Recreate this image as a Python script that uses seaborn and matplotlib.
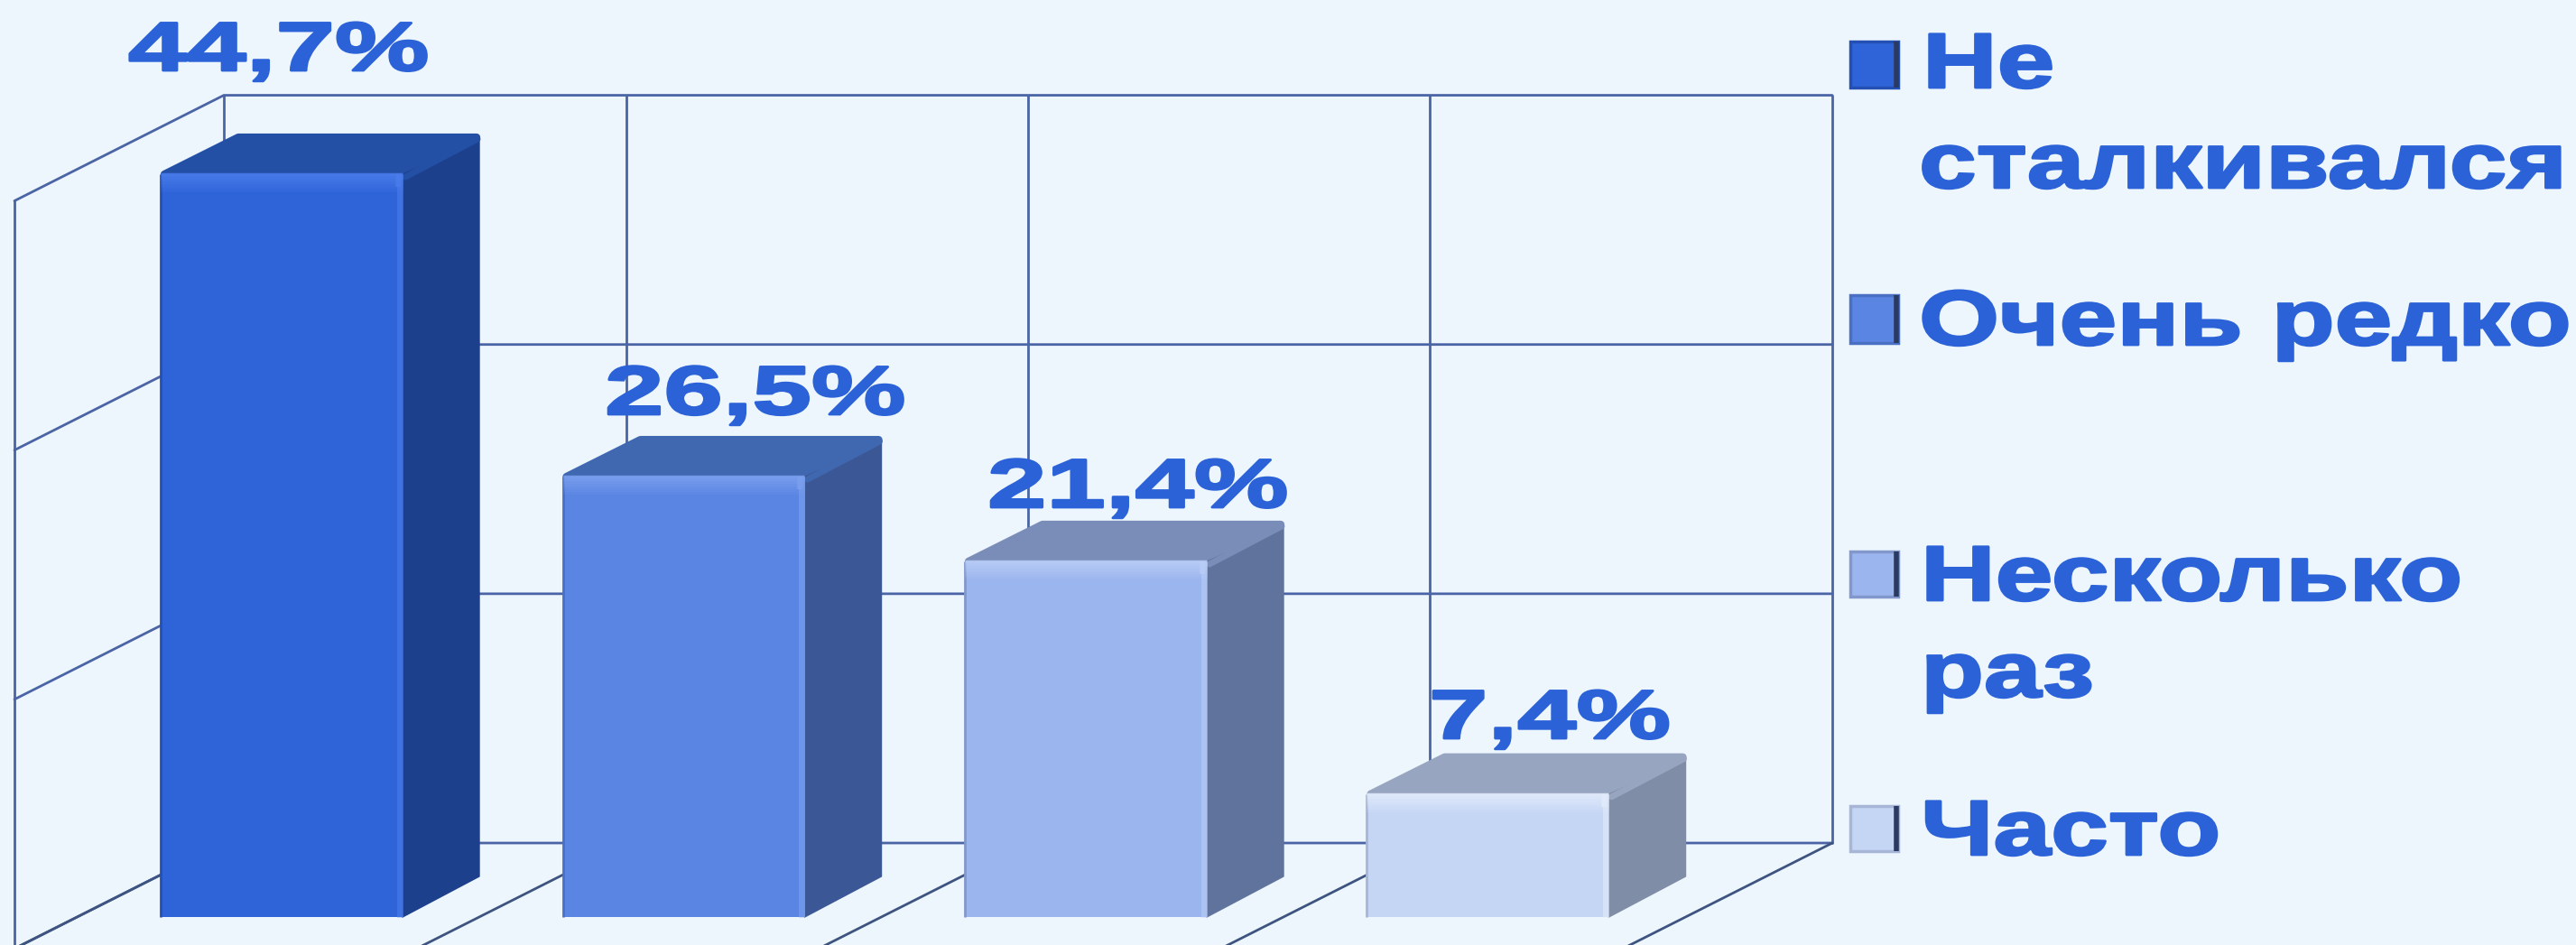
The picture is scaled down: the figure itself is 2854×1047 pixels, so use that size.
# plot.py - 3D-looking bar chart (frequency of encounters), drawn on top of a seaborn barplot
import matplotlib
matplotlib.use("Agg")
import matplotlib.pyplot as plt
import matplotlib.patheffects as pe
from matplotlib.patches import Polygon, Rectangle
from matplotlib.transforms import Affine2D
import pandas as pd
import seaborn as sns

# =====================================================================
# DATA
# =====================================================================
categories = ["Не сталкивался", "Очень редко", "Несколько раз", "Часто"]
values = [44.7, 26.5, 21.4, 7.4]
value_labels = ["44,7%", "26,5%", "21,4%", "7,4%"]
grid_values = [0, 15, 30, 45]
legend_lines = [["Не", "сталкивался"], ["Очень редко"], ["Несколько", "раз"], ["Часто"]]

# =====================================================================
# COLOURS AND LAYOUT (pixels of the 2854x1047 picture)
# =====================================================================
BG = "#EDF6FD"
TEXT = "#2B62D8"
GRID = "#4A64A6"
FLOOR = "#3E5480"
FRONT = ["#2F64D9", "#5A85E3", "#9BB5EE", "#C5D6F5"]
SHINE = ["#4A7CEB", "#7BA0EE", "#B9CDF6", "#E2EBFB"]
EDGE = ["#2450B4", "#4A70C4", "#8298CC", "#A7B6D6"]
TOP = ["#2350A5", "#4068B0", "#7A8DB8", "#98A5C0"]
SIDE = ["#1D408D", "#3B5795", "#60739D", "#808DA6"]

BAR_X0 = 312        # centre of the first bar
BAR_STEP = 445.5    # px per category
BASE_Y = 1016       # front baseline of the bars
PX_PER_UNIT = 18.41
BAR_DX, BAR_DY = 86, 45       # bar depth
WALL_X, WALL_Y = 248, 934     # back wall, lower left corner
WALL_DX, WALL_DY = 232, 117   # side wall and floor depth

LABEL_POS = [(142, 78), (670, 459), (1094, 562), (1583, 818)]
LEGEND_BOX_Y = [(46, 97), (327, 380), (611, 661), (893, 943)]
LEGEND_TEXT = [[(2130, 97), (2126, 208)], [(2126, 382)], [(2128, 665), (2128, 772)], [(2128, 947)]]
LABEL_SIZE, LABEL_STRETCH = 55, 1.54
LEGEND_SIZE, LEGEND_STRETCH = 62, 1.33


class Stretch(pe.AbstractPathEffect):
    """Widens and thickens the glyphs, the original uses an extended typeface."""

    def __init__(self, sx, width=0.0):
        super().__init__()
        self.sx = sx
        self.width = width

    def draw_path(self, renderer, gc, tpath, affine, rgbFace=None):
        gc0 = renderer.new_gc()
        gc0.copy_properties(gc)
        gc0.set_foreground(rgbFace)
        gc0.set_linewidth(self.width)
        gc0.set_joinstyle("round")
        renderer.draw_path(gc0, tpath, Affine2D().scale(self.sx, 1) + affine, rgbFace)
        gc0.restore()


def to_x(px):
    return (px - BAR_X0) / BAR_STEP


def to_y(py):
    return (BASE_Y - py) / PX_PER_UNIT


def put_text(ax, pos, text, size, stretch):
    ax.text(to_x(pos[0]), to_y(pos[1]), text, fontsize=size, fontweight="bold",
            color=TEXT, ha="left", va="baseline",
            path_effects=[Stretch(stretch, 2.0)], zorder=6)


# =====================================================================
# FIGURE
# =====================================================================
sns.set_theme(style="white")
plt.rcParams["font.family"] = ["Liberation Sans", "DejaVu Sans"]

fig = plt.figure(figsize=(28.54, 10.47), dpi=100, facecolor=BG)
ax = fig.add_axes([0, 0, 1, 1], facecolor=BG)

df = pd.DataFrame({"category": categories, "value": values})
sns.barplot(data=df, x="category", y="value", hue="category", palette=FRONT,
            width=268 / BAR_STEP, dodge=False, legend=False, saturation=1,
            linewidth=0, ax=ax, zorder=3)

ax.set_xlim(to_x(0), to_x(2854))
ax.set_ylim(to_y(1047), to_y(0))
ax.set_axis_off()

# back wall, side wall and floor lines
wall_left = to_x(WALL_X)
wall_right = wall_left + len(categories)
wall_base = to_y(WALL_Y)
wall_dx = WALL_DX / BAR_STEP
wall_dy = WALL_DY / PX_PER_UNIT
wall_top = wall_base + grid_values[-1]

for gv in grid_values:
    y = wall_base + gv
    ax.plot([wall_left - wall_dx, wall_left, wall_right], [y - wall_dy, y, y],
            color=GRID, lw=2.0, zorder=1, solid_joinstyle="miter")
for i in range(len(categories) + 1):
    x = wall_left + i
    ax.plot([x, x], [wall_base, wall_top], color=GRID, lw=2.0, zorder=1)
    ax.plot([x, x - wall_dx], [wall_base, wall_base - wall_dy], color=FLOOR, lw=2.0, zorder=1)
ax.plot([wall_left - wall_dx] * 2, [wall_base - wall_dy, wall_top - wall_dy],
        color=GRID, lw=2.0, zorder=1)

# faces of the boxes, built on the bars seaborn drew
dx = BAR_DX / BAR_STEP
dy = BAR_DY / PX_PER_UNIT
px_x = 1 / BAR_STEP
px_y = 1 / PX_PER_UNIT
for i, bar in enumerate(ax.patches):
    x0, x1 = bar.get_x(), bar.get_x() + bar.get_width()
    h = bar.get_height()
    # thick round edge gives the soft back corners, so the polygons are inset
    top = Polygon([(x0 + 4 * px_x, h), (x0 + dx, h + dy - 4 * px_y),
                   (x1 + dx - 4 * px_x, h + dy - 4 * px_y), (x1, h)],
                  facecolor=TOP[i], edgecolor=TOP[i], lw=6, joinstyle="round", zorder=2)
    side = Polygon([(x1, 0), (x1 + dx - 1 * px_x, dy), (x1 + dx - 1 * px_x, h + dy - 8 * px_y), (x1, h)],
                   facecolor=SIDE[i], edgecolor=SIDE[i], lw=1, joinstyle="round", zorder=2.5)
    ax.add_patch(top)
    ax.add_patch(side)
    # ridge between top and side
    ax.plot([x1 + 3 * px_x, x1 + dx - 3 * px_x], [h - 3 * px_y, h + dy - 6 * px_y],
            color=TOP[i], lw=5, zorder=2.6, solid_capstyle="round")

    # soft bevel along the edges of the front
    ax.plot([x0, x0], [0, h], color=EDGE[i], lw=2, zorder=4, solid_capstyle="butt")
    for k in range(7):
        y = h - k * 3 * px_y
        ax.plot([x0, x1], [y, y], color=SHINE[i], alpha=0.85 * (1 - k / 7), lw=2.5,
                zorder=4, solid_capstyle="butt")
    ax.plot([x1 - 3 * px_x] * 2, [0, h], color=SHINE[i], alpha=0.6, lw=5, zorder=4,
            solid_capstyle="butt")
    ax.plot([x1 - 5 * px_x] * 2, [h - 14 * px_y, h], color=SHINE[i], alpha=0.8, lw=4, zorder=4,
            solid_capstyle="butt")

# value labels
for pos, label in zip(LABEL_POS, value_labels):
    put_text(ax, pos, label, LABEL_SIZE, LABEL_STRETCH)

# hand placed legend, the spacing in the original is uneven
box_x0, box_x1 = 2050, 2103
for i, (y0, y1) in enumerate(LEGEND_BOX_Y):
    ax.add_patch(Rectangle((to_x(box_x0), to_y(y1)), (box_x1 - box_x0) / BAR_STEP,
                           (y1 - y0) / PX_PER_UNIT, facecolor=FRONT[i],
                           edgecolor=EDGE[i], lw=2.5, zorder=5))
    ax.plot([to_x(box_x1 - 2)] * 2, [to_y(y0), to_y(y1)], color="#2A3A60", lw=4, zorder=5,
            solid_capstyle="butt")
    for pos, line in zip(LEGEND_TEXT[i], legend_lines[i]):
        put_text(ax, pos, line, LEGEND_SIZE, LEGEND_STRETCH)

fig.savefig("out.png", dpi=100, facecolor=BG)
plt.close(fig)
